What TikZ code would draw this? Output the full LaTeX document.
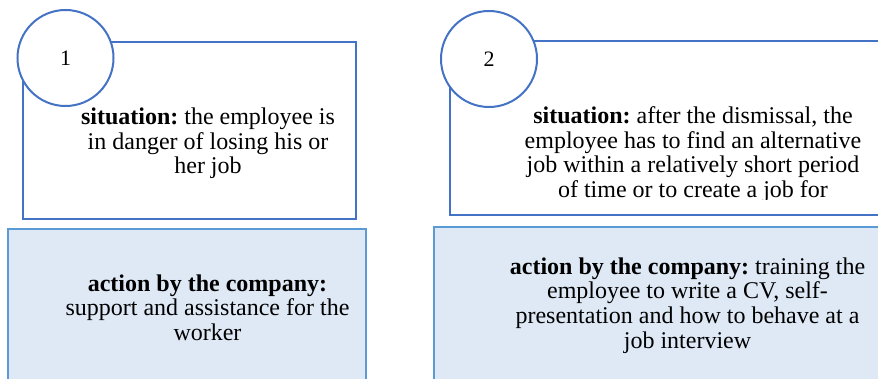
\documentclass[tikz,border=0pt]{standalone}
\usepackage{fontspec}
\setmainfont{Liberation Serif}
\frenchspacing
\definecolor{sitblue}{RGB}{68,114,196}
\definecolor{actblue}{RGB}{91,155,213}
\definecolor{actfill}{RGB}{222,233,245}
\begin{document}
\begin{tikzpicture}[x=1pt,y=-1pt,
  sitbox/.style={draw=sitblue, line width=2pt, fill=white, inner sep=0pt},
  numcirc/.style={circle, draw=sitblue, line width=2pt, fill=white, minimum size=96pt, inner sep=0pt, font=\fontsize{22}{24.5}\selectfont},
  actbox/.style={draw=actblue, line width=1.5pt, fill=actfill, inner sep=0pt},
  txt/.style={align=center, font=\fontsize{24}{24.6}\selectfont, inner sep=0pt}]
\useasboundingbox (0,0) rectangle (878,379);
\clip (0,0) rectangle (878,379);
% column 1
\node[sitbox, minimum width=333pt, minimum height=177pt] (s1) at (189.5,130.5) {};
\node[numcirc] (c1) at (65.5,58) {1};
\node[txt] (t1) at (208,143.5) {\textbf{situation:} the employee is\\in danger of losing his or\\her job};
\node[actbox, minimum width=358pt, minimum height=171pt] (a1) at (187,314.5) {};
\node[txt] (u1) at (207.5,307.5) {\textbf{action by the company:}\\support and assistance for the\\worker};
% column 2
\node[sitbox, minimum width=450pt, minimum height=174pt] (s2) at (675,128) {};
\node[numcirc] (c2) at (489,59) {2};
\begin{scope}
\clip (440,60) rectangle (878,200);
\node[txt] (t2) at (693,154.5) {\textbf{situation:} after the dismissal, the\\employee has to find an alternative\\job within a relatively short period\\of time or to create a job for};
\end{scope}
\node[actbox, minimum width=466pt, minimum height=173pt] (a2) at (667,313.5) {};
\node[txt] (u2) at (687.5,305.5) {\textbf{action by the company:} training the\\employee to write a CV, self-\\presentation and how to behave at a\\job interview};
\end{tikzpicture}
\end{document}
